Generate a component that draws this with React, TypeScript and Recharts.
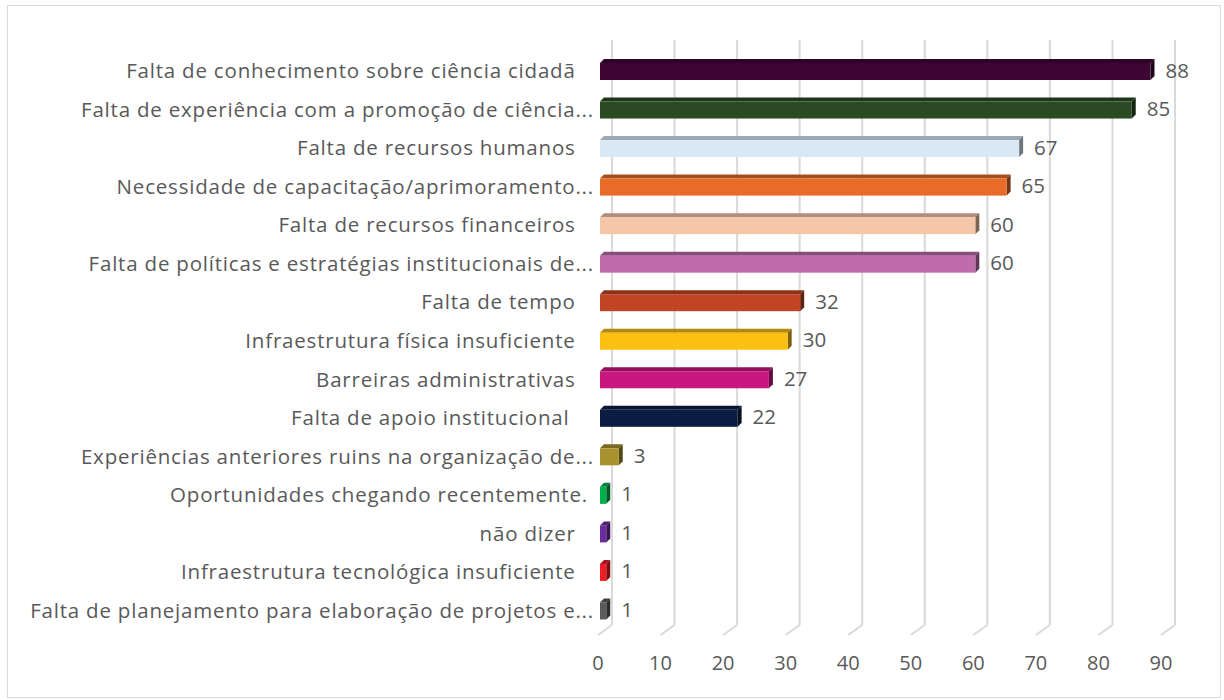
import { BarChart, Bar, XAxis, YAxis, CartesianGrid, LabelList, Cell } from "recharts";

const categories = [
  "Falta de conhecimento sobre ciência cidadã   ",
  "Falta de experiência com a promoção de ciência...",
  "Falta de recursos humanos   ",
  "Necessidade de capacitação/aprimoramento...",
  "Falta de recursos financeiros   ",
  "Falta de políticas e estratégias institucionais de...",
  "Falta de tempo   ",
  "Infraestrutura física insuficiente   ",
  "Barreiras administrativas   ",
  "Falta de apoio institucional    ",
  "Experiências anteriores ruins na organização de...",
  "Oportunidades chegando recentemente. ",
  "não dizer   ",
  "Infraestrutura tecnológica insuficiente   ",
  "Falta de planejamento para elaboração de projetos e...",
];

const values = [88, 85, 67, 65, 60, 60, 32, 30, 27, 22, 3, 1, 1, 1, 1];

const colors = [
  "#3E0634", "#294A22", "#DAE8F6", "#E86C27", "#F6C6A9", "#C06BAA", "#BF4524", "#FCC010",
  "#C8177F", "#0B1D43", "#A8922C", "#00B04C", "#6C2C9C", "#EE1C24", "#5A5A5A",
];

const xTicks = [0, 10, 20, 30, 40, 50, 60, 70, 80, 90];

const data = categories.map((name, i) => ({ name, value: values[i], color: colors[i] }));

const TEXT = "#595959";
const FONT = "'Open Sans', 'Noto Sans', sans-serif";

// darken a hex colour
const shade = (hex: string, f: number) => {
  const n = parseInt(hex.slice(1), 16);
  const r = Math.round(((n >> 16) & 255) * f);
  const g = Math.round(((n >> 8) & 255) * f);
  const b = Math.round((n & 255) * f);
  return `rgb(${r},${g},${b})`;
};

const D = 4; // bar depth

const Bar3D = (props: any) => {
  const { x, y, width, height, fill } = props;
  if (width == null || width <= 0) return null;
  return (
    <g>
      <polygon
        points={`${x},${y} ${x + D},${y - D} ${x + width + D},${y - D} ${x + width},${y}`}
        fill={shade(fill, 0.72)}
      />
      <polygon
        points={`${x + width},${y} ${x + width + D},${y - D} ${x + width + D},${y + height - D} ${x + width},${y + height}`}
        fill={shade(fill, 0.5)}
      />
      <rect x={x} y={y} width={width} height={height} fill={fill} />
    </g>
  );
};

const GridLine = (props: any) => {
  const { x1, y1, y2 } = props;
  const dx = 12;
  return (
    <g key={props.key ?? `g-${x1}`}>
      <line x1={x1 + dx} y1={y1 - 12} x2={x1 + dx} y2={y2 - 5} stroke="#D9D9D9" strokeWidth={2} />
      <line x1={x1 + dx} y1={y2 - 5} x2={x1 - 2} y2={y2 + 5} stroke="#D9D9D9" strokeWidth={2} />
    </g>
  );
};

const XTick = ({ x, y, payload }: any) => (
  <text x={x - 2} y={y + 32} textAnchor="middle" fill={TEXT} fontSize={20} fontFamily={FONT}>
    {payload.value}
  </text>
);

const YTick = ({ x, y, payload }: any) => (
  <text
    x={x}
    y={y}
    dy={7}
    textAnchor="end"
    fill={TEXT}
    fontSize={20.5}
    letterSpacing={0.8}
    fontFamily={FONT}
    style={{ whiteSpace: "pre" }}
  >
    {payload.value}
  </text>
);

const ValueLabel = ({ x, y, width, height, value }: any) => (
  <text
    x={x + width + D + 11}
    y={y + height / 2 - 1}
    dy={7}
    textAnchor="start"
    fill={TEXT}
    fontSize={20.5}
    fontFamily={FONT}
  >
    {value}
  </text>
);

export default function App() {
  return (
    <div style={{ position: "absolute", left: 0, top: 0, width: 1224, height: 700, background: "#fff" }}>
      <div
        style={{
          position: "absolute",
          left: 7,
          top: 5,
          width: 1212,
          height: 691,
          border: "1px solid #D9D9D9",
        }}
      />
      <BarChart
        width={1224}
        height={700}
        data={data}
        layout="vertical"
        margin={{ top: 52, right: 61, left: 0, bottom: 40 }}
        barSize={17}
      >
        <CartesianGrid horizontal={false} vertical={GridLine} />
        <XAxis
          type="number"
          domain={[0, 90]}
          ticks={xTicks}
          axisLine={false}
          tickLine={false}
          height={30}
          tick={XTick}
          interval={0}
        />
        <YAxis
          type="category"
          dataKey="name"
          width={600}
          axisLine={false}
          tickLine={false}
          tickSize={0}
          tickMargin={6}
          tick={YTick}
          interval={0}
        />
        <Bar dataKey="value" shape={Bar3D} isAnimationActive={false}>
          {data.map((d, i) => (
            <Cell key={`c-${i}`} fill={d.color} />
          ))}
          <LabelList dataKey="value" content={ValueLabel} />
        </Bar>
      </BarChart>
    </div>
  );
}
